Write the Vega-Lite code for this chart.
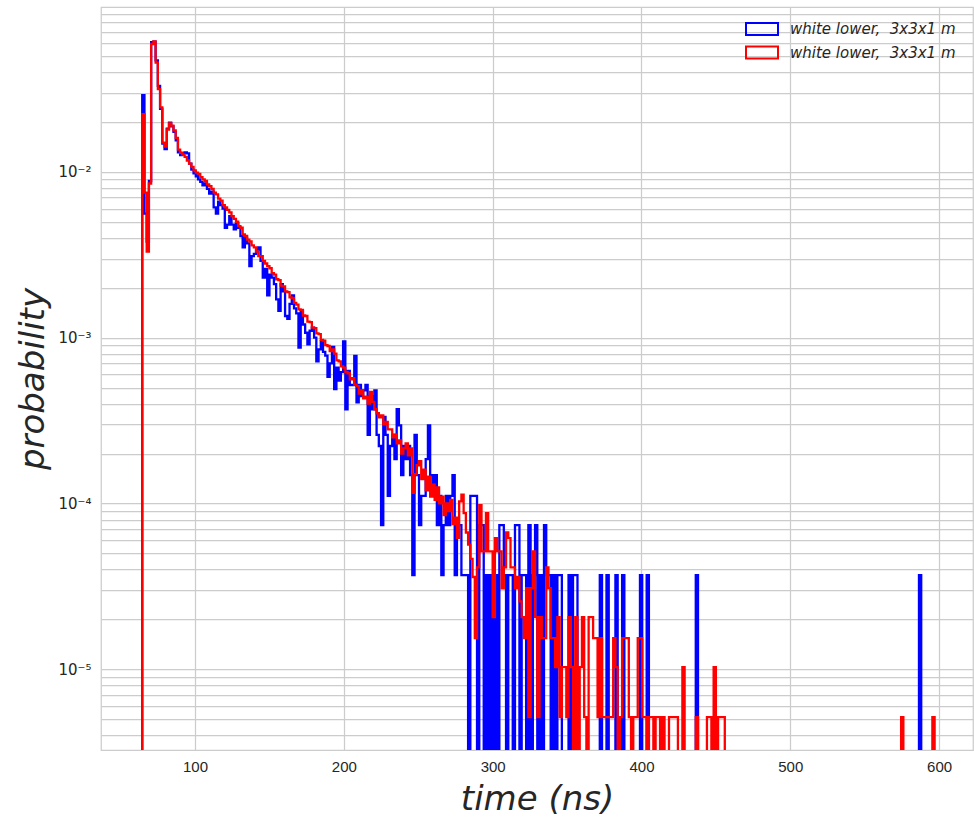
{
  "$schema": "https://vega.github.io/schema/vega-lite/v6.json",
  "width": 872,
  "height": 743,
  "padding": {"left": 101, "top": 7, "right": 1, "bottom": 67},
  "autosize": {"type": "none"},
  "background": "white",
  "config": {
    "view": {"stroke": "#cccccc", "strokeWidth": 1.25},
    "axis": {"gridColor": "#cccccc", "gridWidth": 1.25, "domain": false, "ticks": false, "labelColor": "#262626", "titleColor": "#262626"}
  },
  "data": {
    "values": [
      {"t": 63, "b": 0, "r": 0},
      {"t": 64.5, "b": 0.029, "r": 0.0223},
      {"t": 66, "b": 0.0056, "r": 0.0075},
      {"t": 67.5, "b": 0.0038, "r": 0.0033},
      {"t": 69, "b": 0.0088, "r": 0.0085},
      {"t": 70.5, "b": 0.0605, "r": 0.059},
      {"t": 72, "b": 0.061, "r": 0.0612},
      {"t": 73.5, "b": 0.047, "r": 0.0455},
      {"t": 75, "b": 0.033, "r": 0.0315},
      {"t": 76.5, "b": 0.024, "r": 0.0245},
      {"t": 78, "b": 0.0148, "r": 0.015},
      {"t": 79.5, "b": 0.0137, "r": 0.0142},
      {"t": 81, "b": 0.0182, "r": 0.018},
      {"t": 82.5, "b": 0.0198, "r": 0.0196},
      {"t": 84, "b": 0.0188, "r": 0.019},
      {"t": 85.5, "b": 0.0174, "r": 0.0178},
      {"t": 87, "b": 0.0155, "r": 0.016},
      {"t": 88.5, "b": 0.0131, "r": 0.0136},
      {"t": 90, "b": 0.0126, "r": 0.013},
      {"t": 91.5, "b": 0.013, "r": 0.0127},
      {"t": 93, "b": 0.0131, "r": 0.0123},
      {"t": 94.5, "b": 0.0129, "r": 0.0117},
      {"t": 96, "b": 0.0112, "r": 0.0112},
      {"t": 97.5, "b": 0.0103, "r": 0.0107},
      {"t": 99, "b": 0.0098, "r": 0.0102},
      {"t": 100.5, "b": 0.0094, "r": 0.0099},
      {"t": 102, "b": 0.009, "r": 0.0097},
      {"t": 103.5, "b": 0.0087, "r": 0.0093},
      {"t": 105, "b": 0.0083, "r": 0.009},
      {"t": 106.5, "b": 0.0085, "r": 0.0088},
      {"t": 108, "b": 0.0079, "r": 0.0084},
      {"t": 109.5, "b": 0.0074, "r": 0.0082},
      {"t": 111, "b": 0.0076, "r": 0.0079},
      {"t": 112.5, "b": 0.0061, "r": 0.0075},
      {"t": 114, "b": 0.0056, "r": 0.0073},
      {"t": 115.5, "b": 0.0066, "r": 0.0069},
      {"t": 117, "b": 0.0063, "r": 0.0067},
      {"t": 118.5, "b": 0.006, "r": 0.0063},
      {"t": 120, "b": 0.0046, "r": 0.0061},
      {"t": 121.5, "b": 0.0048, "r": 0.0059},
      {"t": 123, "b": 0.0054, "r": 0.0057},
      {"t": 124.5, "b": 0.0048, "r": 0.0054},
      {"t": 126, "b": 0.0045, "r": 0.0052},
      {"t": 127.5, "b": 0.0049, "r": 0.005},
      {"t": 129, "b": 0.0046, "r": 0.0047},
      {"t": 130.5, "b": 0.0041, "r": 0.0046},
      {"t": 132, "b": 0.0035, "r": 0.0042},
      {"t": 133.5, "b": 0.004, "r": 0.0041},
      {"t": 135, "b": 0.0037, "r": 0.0039},
      {"t": 136.5, "b": 0.0027, "r": 0.0038},
      {"t": 138, "b": 0.0031, "r": 0.0036},
      {"t": 139.5, "b": 0.0032, "r": 0.0035},
      {"t": 141, "b": 0.0034, "r": 0.0033},
      {"t": 142.5, "b": 0.0035, "r": 0.0031},
      {"t": 144, "b": 0.0029, "r": 0.0031},
      {"t": 145.5, "b": 0.0023, "r": 0.0029},
      {"t": 147, "b": 0.0026, "r": 0.0028},
      {"t": 148.5, "b": 0.0018, "r": 0.0027},
      {"t": 150, "b": 0.0024, "r": 0.00262},
      {"t": 151.5, "b": 0.0023, "r": 0.00245},
      {"t": 153, "b": 0.0021, "r": 0.0024},
      {"t": 154.5, "b": 0.0017, "r": 0.00225},
      {"t": 156, "b": 0.00145, "r": 0.00222},
      {"t": 157.5, "b": 0.0021, "r": 0.00206},
      {"t": 159, "b": 0.0019, "r": 0.00204},
      {"t": 160.5, "b": 0.00135, "r": 0.0019},
      {"t": 162, "b": 0.0013, "r": 0.00188},
      {"t": 163.5, "b": 0.0016, "r": 0.00175},
      {"t": 165, "b": 0.0018, "r": 0.00173},
      {"t": 166.5, "b": 0.0015, "r": 0.00162},
      {"t": 168, "b": 0.0014, "r": 0.00158},
      {"t": 169.5, "b": 0.00087, "r": 0.00148},
      {"t": 171, "b": 0.00145, "r": 0.00147},
      {"t": 172.5, "b": 0.0012, "r": 0.00136},
      {"t": 174, "b": 0.00107, "r": 0.00135},
      {"t": 175.5, "b": 0.00091, "r": 0.00125},
      {"t": 177, "b": 0.0011, "r": 0.00124},
      {"t": 178.5, "b": 0.00115, "r": 0.00115},
      {"t": 180, "b": 0.001, "r": 0.00114},
      {"t": 181.5, "b": 0.00072, "r": 0.00106},
      {"t": 183, "b": 0.00085, "r": 0.00105},
      {"t": 184.5, "b": 0.00095, "r": 0.00097},
      {"t": 186, "b": 0.00082, "r": 0.00096},
      {"t": 187.5, "b": 0.00078, "r": 0.0009},
      {"t": 189, "b": 0.00058, "r": 0.00089},
      {"t": 190.5, "b": 0.0007, "r": 0.00083},
      {"t": 192, "b": 0.00088, "r": 0.00085},
      {"t": 193.5, "b": 0.00049, "r": 0.0008},
      {"t": 195, "b": 0.00066, "r": 0.00073},
      {"t": 196.5, "b": 0.00055, "r": 0.00072},
      {"t": 198, "b": 0.00062, "r": 0.00067},
      {"t": 199.5, "b": 0.00095, "r": 0.00066},
      {"t": 201, "b": 0.00037, "r": 0.00062},
      {"t": 202.5, "b": 0.000629, "r": 0.00061},
      {"t": 204, "b": 0.000518, "r": 0.00056},
      {"t": 205.5, "b": 0.000518, "r": 0.00057},
      {"t": 207, "b": 0.000777, "r": 0.00052},
      {"t": 208.5, "b": 0.000407, "r": 0.00051},
      {"t": 210, "b": 0.000518, "r": 0.00046},
      {"t": 211.5, "b": 0.000444, "r": 0.00048},
      {"t": 213, "b": 0.000481, "r": 0.00043},
      {"t": 214.5, "b": 0.000518, "r": 0.00044},
      {"t": 216, "b": 0.000259, "r": 0.0004},
      {"t": 217.5, "b": 0.000444, "r": 0.00047},
      {"t": 219, "b": 0.00037, "r": 0.00041},
      {"t": 220.5, "b": 0.000481, "r": 0.00037},
      {"t": 222, "b": 0.000259, "r": 0.00035},
      {"t": 223.5, "b": 0.000222, "r": 0.00033},
      {"t": 225, "b": 0.000074, "r": 0.00034},
      {"t": 226.5, "b": 0.000333, "r": 0.0003},
      {"t": 228, "b": 0.000259, "r": 0.00031},
      {"t": 229.5, "b": 0.000111, "r": 0.00028},
      {"t": 231, "b": 0.000222, "r": 0.00028},
      {"t": 232.5, "b": 0.000259, "r": 0.00025},
      {"t": 234, "b": 0.000185, "r": 0.00026},
      {"t": 235.5, "b": 0.00037, "r": 0.00023},
      {"t": 237, "b": 0.000296, "r": 0.00024},
      {"t": 238.5, "b": 0.000148, "r": 0.0002},
      {"t": 240, "b": 0.000222, "r": 0.000215},
      {"t": 241.5, "b": 0.000185, "r": 0.00023},
      {"t": 243, "b": 0.000222, "r": 0.000195},
      {"t": 244.5, "b": 0.000148, "r": 0.000215},
      {"t": 246, "b": 0.000037, "r": 0.000116},
      {"t": 247.5, "b": 0.000259, "r": 0.00015},
      {"t": 249, "b": 0.000148, "r": 0.00017},
      {"t": 250.5, "b": 0.000074, "r": 0.00018},
      {"t": 252, "b": 0.000111, "r": 0.00014},
      {"t": 253.5, "b": 0.000111, "r": 0.00016},
      {"t": 255, "b": 0.000185, "r": 0.00012},
      {"t": 256.5, "b": 0.000296, "r": 0.000145},
      {"t": 258, "b": 0.000148, "r": 0.00011},
      {"t": 259.5, "b": 0.000111, "r": 0.00013},
      {"t": 261, "b": 0.000148, "r": 0.000105},
      {"t": 262.5, "b": 0.000074, "r": 0.000125},
      {"t": 264, "b": 0.000111, "r": 0.0001},
      {"t": 265.5, "b": 0.000037, "r": 0.00011},
      {"t": 267, "b": 0.000074, "r": 0.000085},
      {"t": 268.5, "b": 0.000111, "r": 0.0001},
      {"t": 270, "b": 0.000074, "r": 0.00009},
      {"t": 271.5, "b": 0.000111, "r": 0.000105},
      {"t": 273, "b": 0.000148, "r": 0.000075},
      {"t": 274.5, "b": 0.000037, "r": 0.000082},
      {"t": 276, "b": 0.000074, "r": 0.000062},
      {"t": 277.5, "b": 7.4e-5, "r": 1.03e-4},
      {"t": 279, "b": 3.7e-5, "r": 1.13e-4},
      {"t": 280.5, "b": 3.7e-5, "r": 8.74e-5},
      {"t": 282, "b": 3.7e-5, "r": 6.68e-5},
      {"t": 283.5, "b": 0, "r": 5.65e-5},
      {"t": 285, "b": 1.11e-4, "r": 4.63e-5},
      {"t": 286.5, "b": 1.11e-4, "r": 3.6e-5},
      {"t": 288, "b": 1.11e-4, "r": 1.54e-5},
      {"t": 289.5, "b": 0, "r": 4.11e-5},
      {"t": 291, "b": 7.4e-5, "r": 9.77e-5},
      {"t": 292.5, "b": 7.4e-5, "r": 5.14e-5},
      {"t": 294, "b": 0, "r": 5.14e-5},
      {"t": 295.5, "b": 3.7e-5, "r": 8.74e-5},
      {"t": 297, "b": 0, "r": 5.14e-5},
      {"t": 298.5, "b": 3.7e-5, "r": 5.14e-5},
      {"t": 300, "b": 0, "r": 2.06e-5},
      {"t": 301.5, "b": 3.7e-5, "r": 6.17e-5},
      {"t": 303, "b": 0, "r": 5.14e-5},
      {"t": 304.5, "b": 7.4e-5, "r": 5.14e-5},
      {"t": 306, "b": 7.4e-5, "r": 3.08e-5},
      {"t": 307.5, "b": 3.7e-5, "r": 4.11e-5},
      {"t": 309, "b": 0, "r": 6.68e-5},
      {"t": 310.5, "b": 3.7e-5, "r": 6.17e-5},
      {"t": 312, "b": 3.7e-5, "r": 4.11e-5},
      {"t": 313.5, "b": 0, "r": 4.11e-5},
      {"t": 315, "b": 7.4e-5, "r": 3.08e-5},
      {"t": 316.5, "b": 7.4e-5, "r": 3.6e-5},
      {"t": 318, "b": 0, "r": 2.57e-5},
      {"t": 319.5, "b": 3.7e-5, "r": 2.06e-5},
      {"t": 321, "b": 3.7e-5, "r": 1.54e-5},
      {"t": 322.5, "b": 0, "r": 3.08e-5},
      {"t": 324, "b": 7.4e-5, "r": 5.14e-6},
      {"t": 325.5, "b": 0, "r": 3.08e-5},
      {"t": 327, "b": 3.7e-5, "r": 5.14e-5},
      {"t": 328.5, "b": 7.4e-5, "r": 2.06e-5},
      {"t": 330, "b": 0, "r": 5.14e-6},
      {"t": 331.5, "b": 3.7e-5, "r": 2.06e-5},
      {"t": 333, "b": 0, "r": 1.54e-5},
      {"t": 334.5, "b": 7.4e-5, "r": 1.54e-5},
      {"t": 336, "b": 3.7e-5, "r": 4.11e-5},
      {"t": 337.5, "b": 3.7e-5, "r": 3.08e-5},
      {"t": 339, "b": 0, "r": 1.54e-5},
      {"t": 340.5, "b": 3.7e-5, "r": 1.54e-5},
      {"t": 342, "b": 0, "r": 1.03e-5},
      {"t": 343.5, "b": 3.7e-5, "r": 2.06e-5},
      {"t": 345, "b": 3.7e-5, "r": 5.14e-6},
      {"t": 346.5, "b": 0, "r": 1.03e-5},
      {"t": 348, "b": 0, "r": 1.03e-5},
      {"t": 349.5, "b": 0, "r": 5.14e-6},
      {"t": 351, "b": 3.7e-5, "r": 2.06e-5},
      {"t": 352.5, "b": 0, "r": 1.03e-5},
      {"t": 354, "b": 3.7e-5, "r": 0},
      {"t": 355.5, "b": 3.7e-5, "r": 2.06e-5},
      {"t": 357, "b": 0, "r": 0},
      {"t": 358.5, "b": 0, "r": 1.03e-5},
      {"t": 360, "b": 0, "r": 2.06e-5},
      {"t": 361.5, "b": 0, "r": 5.14e-6},
      {"t": 363, "b": 0, "r": 0},
      {"t": 364.5, "b": 0, "r": 2.06e-5},
      {"t": 366, "b": 0, "r": 2.06e-5},
      {"t": 367.5, "b": 0, "r": 1.54e-5},
      {"t": 369, "b": 0, "r": 1.54e-5},
      {"t": 370.5, "b": 0, "r": 5.14e-6},
      {"t": 372, "b": 3.7e-5, "r": 1.54e-5},
      {"t": 373.5, "b": 0, "r": 5.14e-6},
      {"t": 375, "b": 0, "r": 5.14e-6},
      {"t": 376.5, "b": 3.7e-5, "r": 5.14e-6},
      {"t": 378, "b": 0, "r": 5.14e-6},
      {"t": 379.5, "b": 0, "r": 5.14e-6},
      {"t": 381, "b": 0, "r": 1.54e-5},
      {"t": 382.5, "b": 3.7e-5, "r": 1.03e-5},
      {"t": 384, "b": 0, "r": 0},
      {"t": 385.5, "b": 0, "r": 5.14e-6},
      {"t": 387, "b": 3.7e-5, "r": 1.54e-5},
      {"t": 388.5, "b": 0, "r": 1.54e-5},
      {"t": 390, "b": 0, "r": 1.54e-5},
      {"t": 391.5, "b": 0, "r": 5.14e-6},
      {"t": 393, "b": 0, "r": 0},
      {"t": 394.5, "b": 0, "r": 5.14e-6},
      {"t": 396, "b": 0, "r": 5.14e-6},
      {"t": 397.5, "b": 0, "r": 1.54e-5},
      {"t": 399, "b": 3.7e-5, "r": 1.54e-5},
      {"t": 400.5, "b": 0, "r": 5.14e-6},
      {"t": 402, "b": 0, "r": 5.14e-6},
      {"t": 403.5, "b": 3.7e-5, "r": 0},
      {"t": 405, "b": 0, "r": 5.14e-6},
      {"t": 406.5, "b": 0, "r": 5.14e-6},
      {"t": 408, "b": 0, "r": 0},
      {"t": 409.5, "b": 0, "r": 5.14e-6},
      {"t": 411, "b": 0, "r": 5.14e-6},
      {"t": 412.5, "b": 0, "r": 0},
      {"t": 414, "b": 0, "r": 5.14e-6},
      {"t": 415.5, "b": 0, "r": 0},
      {"t": 417, "b": 0, "r": 0},
      {"t": 418.5, "b": 0, "r": 5.14e-6},
      {"t": 420, "b": 0, "r": 5.14e-6},
      {"t": 421.5, "b": 0, "r": 5.14e-6},
      {"t": 423, "b": 0, "r": 5.14e-6},
      {"t": 424.5, "b": 0, "r": 0},
      {"t": 426, "b": 0, "r": 0},
      {"t": 427.5, "b": 0, "r": 1.03e-5},
      {"t": 429, "b": 0, "r": 0},
      {"t": 430.5, "b": 0, "r": 0},
      {"t": 432, "b": 0, "r": 0},
      {"t": 433.5, "b": 0, "r": 0},
      {"t": 435, "b": 0, "r": 0},
      {"t": 436.5, "b": 3.7e-5, "r": 5.14e-6},
      {"t": 438, "b": 0, "r": 0},
      {"t": 439.5, "b": 0, "r": 0},
      {"t": 441, "b": 0, "r": 0},
      {"t": 442.5, "b": 0, "r": 0},
      {"t": 444, "b": 0, "r": 5.14e-6},
      {"t": 445.5, "b": 0, "r": 5.14e-6},
      {"t": 447, "b": 0, "r": 0},
      {"t": 448.5, "b": 0, "r": 1.03e-5},
      {"t": 450, "b": 0, "r": 0},
      {"t": 451.5, "b": 0, "r": 5.14e-6},
      {"t": 453, "b": 0, "r": 5.14e-6},
      {"t": 454.5, "b": 0, "r": 5.14e-6},
      {"t": 456, "b": 0, "r": 0},
      {"t": 457.5, "b": 0, "r": 0},
      {"t": 459, "b": 0, "r": 0},
      {"t": 460.5, "b": 0, "r": 0},
      {"t": 462, "b": 0, "r": 0},
      {"t": 463.5, "b": 0, "r": 0},
      {"t": 465, "b": 0, "r": 0},
      {"t": 466.5, "b": 0, "r": 0},
      {"t": 468, "b": 0, "r": 0},
      {"t": 469.5, "b": 0, "r": 0},
      {"t": 471, "b": 0, "r": 0},
      {"t": 472.5, "b": 0, "r": 0},
      {"t": 474, "b": 0, "r": 0},
      {"t": 475.5, "b": 0, "r": 0},
      {"t": 477, "b": 0, "r": 0},
      {"t": 478.5, "b": 0, "r": 0},
      {"t": 480, "b": 0, "r": 0},
      {"t": 481.5, "b": 0, "r": 0},
      {"t": 483, "b": 0, "r": 0},
      {"t": 484.5, "b": 0, "r": 0},
      {"t": 486, "b": 0, "r": 0},
      {"t": 487.5, "b": 0, "r": 0},
      {"t": 489, "b": 0, "r": 0},
      {"t": 490.5, "b": 0, "r": 0},
      {"t": 492, "b": 0, "r": 0},
      {"t": 493.5, "b": 0, "r": 0},
      {"t": 495, "b": 0, "r": 0},
      {"t": 496.5, "b": 0, "r": 0},
      {"t": 498, "b": 0, "r": 0},
      {"t": 499.5, "b": 0, "r": 0},
      {"t": 501, "b": 0, "r": 0},
      {"t": 502.5, "b": 0, "r": 0},
      {"t": 504, "b": 0, "r": 0},
      {"t": 505.5, "b": 0, "r": 0},
      {"t": 507, "b": 0, "r": 0},
      {"t": 508.5, "b": 0, "r": 0},
      {"t": 510, "b": 0, "r": 0},
      {"t": 511.5, "b": 0, "r": 0},
      {"t": 513, "b": 0, "r": 0},
      {"t": 514.5, "b": 0, "r": 0},
      {"t": 516, "b": 0, "r": 0},
      {"t": 517.5, "b": 0, "r": 0},
      {"t": 519, "b": 0, "r": 0},
      {"t": 520.5, "b": 0, "r": 0},
      {"t": 522, "b": 0, "r": 0},
      {"t": 523.5, "b": 0, "r": 0},
      {"t": 525, "b": 0, "r": 0},
      {"t": 526.5, "b": 0, "r": 0},
      {"t": 528, "b": 0, "r": 0},
      {"t": 529.5, "b": 0, "r": 0},
      {"t": 531, "b": 0, "r": 0},
      {"t": 532.5, "b": 0, "r": 0},
      {"t": 534, "b": 0, "r": 0},
      {"t": 535.5, "b": 0, "r": 0},
      {"t": 537, "b": 0, "r": 0},
      {"t": 538.5, "b": 0, "r": 0},
      {"t": 540, "b": 0, "r": 0},
      {"t": 541.5, "b": 0, "r": 0},
      {"t": 543, "b": 0, "r": 0},
      {"t": 544.5, "b": 0, "r": 0},
      {"t": 546, "b": 0, "r": 0},
      {"t": 547.5, "b": 0, "r": 0},
      {"t": 549, "b": 0, "r": 0},
      {"t": 550.5, "b": 0, "r": 0},
      {"t": 552, "b": 0, "r": 0},
      {"t": 553.5, "b": 0, "r": 0},
      {"t": 555, "b": 0, "r": 0},
      {"t": 556.5, "b": 0, "r": 0},
      {"t": 558, "b": 0, "r": 0},
      {"t": 559.5, "b": 0, "r": 0},
      {"t": 561, "b": 0, "r": 0},
      {"t": 562.5, "b": 0, "r": 0},
      {"t": 564, "b": 0, "r": 0},
      {"t": 565.5, "b": 0, "r": 0},
      {"t": 567, "b": 0, "r": 0},
      {"t": 568.5, "b": 0, "r": 0},
      {"t": 570, "b": 0, "r": 0},
      {"t": 571.5, "b": 0, "r": 0},
      {"t": 573, "b": 0, "r": 0},
      {"t": 574.5, "b": 0, "r": 5.14e-6},
      {"t": 576, "b": 0, "r": 0},
      {"t": 577.5, "b": 0, "r": 0},
      {"t": 579, "b": 0, "r": 0},
      {"t": 580.5, "b": 0, "r": 0},
      {"t": 582, "b": 0, "r": 0},
      {"t": 583.5, "b": 0, "r": 0},
      {"t": 585, "b": 0, "r": 0},
      {"t": 586.5, "b": 3.7e-5, "r": 0},
      {"t": 588, "b": 0, "r": 0},
      {"t": 589.5, "b": 0, "r": 0},
      {"t": 591, "b": 0, "r": 0},
      {"t": 592.5, "b": 0, "r": 0},
      {"t": 594, "b": 0, "r": 0},
      {"t": 595.5, "b": 0, "r": 5.14e-6},
      {"t": 597, "b": 0, "r": 0},
      {"t": 598.5, "b": 0, "r": 0}
    ]
  },
  "transform": [{"fold": ["b", "r"], "as": ["series", "p"]}],
  "mark": {"type": "line", "interpolate": "step-after", "strokeWidth": 2.3, "clip": true},
  "encoding": {
    "x": {
      "field": "t",
      "type": "quantitative",
      "scale": {"domain": [36.8, 622.8], "nice": false, "zero": false},
      "axis": {
        "values": [100, 200, 300, 400, 500, 600],
        "grid": true,
        "labelFont": "Liberation Sans",
        "labelFontSize": 15,
        "labelPadding": 9,
        "title": "time (ns)",
        "titleFont": "DejaVu Sans",
        "titleFontStyle": "italic",
        "titleFontWeight": "normal",
        "titleFontSize": 34,
        "titlePadding": 8
      }
    },
    "y": {
      "field": "p",
      "type": "quantitative",
      "scale": {"type": "symlog", "constant": 1e-8, "domain": [3.25e-6, 0.0986], "nice": false, "zero": false},
      "axis": {
        "values": [4e-6, 5e-6, 6e-6, 7e-6, 8e-6, 9e-6, 1e-5, 2e-5, 3e-5, 4e-5, 5e-5, 6e-5, 7e-5, 8e-5, 9e-5, 1e-4, 2e-4, 3e-4, 4e-4, 5e-4, 6e-4, 7e-4, 8e-4, 9e-4, 0.001, 0.002, 0.003, 0.004, 0.005, 0.006, 0.007, 0.008, 0.009, 0.01, 0.02, 0.03, 0.04, 0.05, 0.06, 0.07, 0.08, 0.09],
        "labelExpr": "datum.value == 0.01 ? '10⁻²' : datum.value == 0.001 ? '10⁻³' : datum.value == 0.0001 ? '10⁻⁴' : datum.value == 0.00001 ? '10⁻⁵' : ''",
        "labelOverlap": false,
        "labelFont": "DejaVu Sans",
        "labelFontSize": 15,
        "labelPadding": 10,
        "grid": true,
        "title": "probability",
        "titleFont": "DejaVu Sans",
        "titleFontStyle": "italic",
        "titleFontWeight": "normal",
        "titleFontSize": 34,
        "titlePadding": 7
      }
    },
    "color": {
      "field": "series",
      "type": "nominal",
      "scale": {"domain": ["b", "r"], "range": ["#0000ff", "#ff0000"]},
      "legend": {
        "orient": "none",
        "legendX": 652,
        "legendY": 13,
        "title": null,
        "padding": 0,
        "labelExpr": "'white lower, \u00a03x3x1 m'",
        "labelFont": "DejaVu Sans",
        "labelFontStyle": "italic",
        "labelFontSize": 15,
        "labelColor": "#262626",
        "labelLimit": 400,
        "labelOffset": 19,
        "rowPadding": 3.5,
        "symbolType": "M-2,-0.75H2V0.75H-2Z",
        "symbolSize": 256,
        "symbolStrokeWidth": 2,
        "symbolFillColor": "transparent"
      }
    }
  }
}
